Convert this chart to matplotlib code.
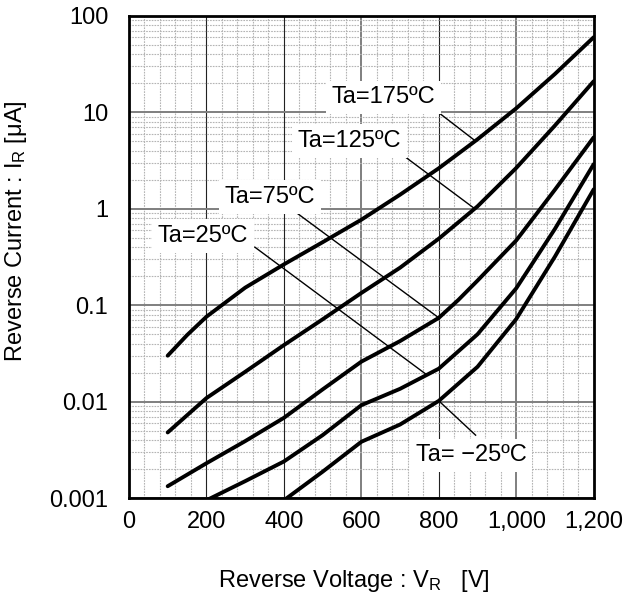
import matplotlib
matplotlib.use('Agg')
import matplotlib.pyplot as plt
from matplotlib.ticker import FixedLocator, MultipleLocator, LogLocator, FuncFormatter, NullFormatter

plt.rcParams['font.family'] = ['Liberation Sans', 'DejaVu Sans']
plt.rcParams['mathtext.default'] = 'regular'

# reverse voltage [V] and reverse current [uA]
v_175 = [100, 150, 200, 300, 400, 500, 600, 700, 800, 900, 1000, 1100, 1200]
i_175 = [0.030, 0.049, 0.076, 0.152, 0.265, 0.45, 0.77, 1.40, 2.63, 5.25, 11.0, 25, 60]

v_125 = [100, 200, 300, 400, 500, 600, 700, 800, 900, 1000, 1100, 1200]
i_125 = [0.0048, 0.0109, 0.0204, 0.0386, 0.0714, 0.134, 0.245, 0.49, 1.06, 2.65, 7.3, 21]

v_75 = [100, 200, 300, 400, 500, 600, 700, 800, 850, 900, 1000, 1100, 1200]
i_75 = [0.00133, 0.0023, 0.0039, 0.0068, 0.0134, 0.026, 0.0425, 0.074, 0.113, 0.18, 0.47, 1.58, 5.5]

v_25 = [200, 300, 400, 500, 600, 700, 800, 900, 1000, 1100, 1200]
i_25 = [0.00095, 0.0015, 0.0024, 0.0045, 0.0092, 0.0136, 0.022, 0.050, 0.15, 0.62, 2.9]

v_m25 = [400, 500, 600, 700, 800, 900, 1000, 1100, 1200]
i_m25 = [0.00095, 0.00188, 0.00384, 0.0058, 0.0102, 0.023, 0.072, 0.32, 1.59]

curves = [(v_175, i_175), (v_125, i_125), (v_75, i_75), (v_25, i_25), (v_m25, i_m25)]

# label text, text centre (V, I), leader start (V, I), leader end on curve (V, I)
labels = ['Ta=175ºC', 'Ta=125ºC', 'Ta=75ºC', 'Ta=25ºC', 'Ta= \u221225ºC']
label_pos = [(658, 14.3), (570, 5.05), (364, 1.32), (191, 0.52), (883, 0.00279)]
leader_from = [(800, 9.9), (707, 3.6), (434, 0.90), (325, 0.40), (895, 0.0045)]
leader_to = [(893, 5.1), (893, 1.0), (800, 0.074), (769, 0.019), (800, 0.0102)]

x_ticks = [0, 200, 400, 600, 800, 1000, 1200]
y_ticks = [0.001, 0.01, 0.1, 1, 10, 100]
y_ticklabels = ['0.001', '0.01', '0.1', '1', '10', '100']

fig = plt.figure(figsize=(6.23, 6.09), dpi=100)
ax = fig.add_axes([0.207, 0.182, 0.746, 0.792])

ax.set_yscale('log')
ax.set_xlim(0, 1200)
ax.set_ylim(0.001, 100)

ax.xaxis.set_major_locator(FixedLocator(x_ticks))
ax.xaxis.set_minor_locator(MultipleLocator(40))
ax.yaxis.set_major_locator(FixedLocator(y_ticks))
ax.yaxis.set_minor_locator(LogLocator(base=10, subs=range(2, 10)))
ax.yaxis.set_minor_formatter(NullFormatter())
ax.xaxis.set_major_formatter(FuncFormatter(lambda v, p: f'{int(v):,}'))
ax.yaxis.set_major_formatter(FuncFormatter(lambda v, p: y_ticklabels[y_ticks.index(min(y_ticks, key=lambda t: abs(t - v)))]))

ax.tick_params(which='both', length=0)
ax.tick_params(axis='x', pad=9, labelsize=17)
ax.tick_params(axis='y', pad=15, labelsize=17)

ax.grid(which='minor', color='#b4b4b4', linestyle=(0, (1.5, 1)), linewidth=0.8)
ax.grid(which='major', axis='y', color='#7f7f7f', linewidth=1.4)
ax.grid(which='major', axis='x', color='#222222', linewidth=0.8)
for t, tick in zip(x_ticks, ax.xaxis.get_major_ticks()):
    if t in (600, 1000):
        tick.gridline.set_color('#7f7f7f')
        tick.gridline.set_linewidth(1.4)
ax.set_axisbelow(True)

for s in ax.spines.values():
    s.set_linewidth(2)
    s.set_zorder(5)

for v, i in curves:
    ax.plot(v, i, color='black', linewidth=2.8, solid_capstyle='round', solid_joinstyle='round', zorder=3)

for (x0, y0), (x1, y1) in zip(leader_from, leader_to):
    ax.plot([x0, x1], [y0, y1], color='black', linewidth=1.0, zorder=2)

for txt, (x, y) in zip(labels, label_pos):
    ax.text(x, y, txt, fontsize=17, ha='center', va='center', zorder=4,
            bbox=dict(facecolor='white', edgecolor='none', pad=4))

ax.set_xlabel('Reverse Voltage : V$_R$   [V]', fontsize=17)
ax.set_ylabel('Reverse Current : I$_R$ [μA]', fontsize=17)
ax.xaxis.set_label_coords(0.483, -0.145)
ax.yaxis.set_label_coords(-0.215, 0.554)

fig.savefig('out.png', dpi=100)
